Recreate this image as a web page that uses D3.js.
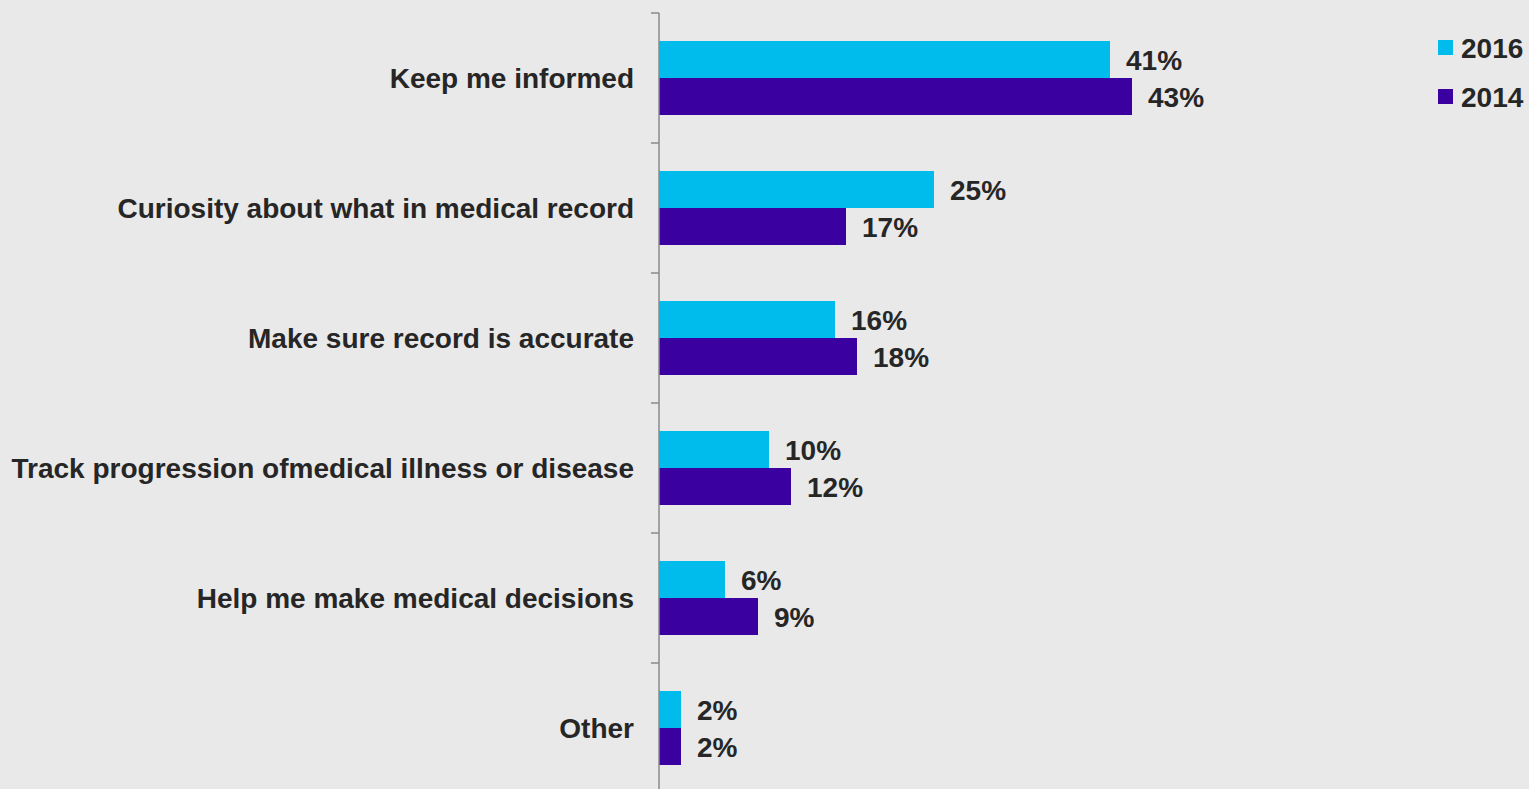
<!DOCTYPE html>
<html>
<head>
<meta charset="utf-8">
<script src="https://cdn.jsdelivr.net/npm/d3@7"></script>
<style>
  html, body { margin: 0; padding: 0; background: #e9e9e9; }
  svg { display: block; }
  text { font-family: "Liberation Sans", Arial, sans-serif; font-weight: bold; fill: #262626; }
</style>
</head>
<body>
<svg id="chart" width="1529" height="789"></svg>
<script>
// Reasons for accessing the medical record, by survey year (%)
const categories = [
  "Keep me informed",
  "Curiosity about what in medical record",
  "Make sure record is accurate",
  "Track progression ofmedical illness or disease",
  "Help me make medical decisions",
  "Other"
];
const seriesNames = ["2016", "2014"];
const values2016 = [41, 25, 16, 10, 6, 2];
const values2014 = [43, 17, 18, 12, 9, 2];
const seriesColors = ["#00bcec", "#3a00a0"];

const svg = d3.select("#chart");
const axisX = 659;
const fontSize = 28;

const x = d3.scaleLinear().domain([0, 50]).range([axisX, axisX + 550]);
const y0 = d3.scaleBand().domain(categories).range([13, 793]).padding(0);
const y1 = d3.scaleBand().domain(seriesNames).range([0, y0.bandwidth()]).paddingInner(0).paddingOuter(0.757);
const color = d3.scaleOrdinal().domain(seriesNames).range(seriesColors);

const rows = categories.map((c, i) => ({
  category: c,
  items: [
    { series: "2016", value: values2016[i] },
    { series: "2014", value: values2014[i] }
  ]
}));

// Bars and value labels
const groups = svg.append("g").selectAll("g")
  .data(rows)
  .join("g")
  .attr("transform", d => `translate(0,${y0(d.category)})`);

groups.selectAll("rect")
  .data(d => d.items)
  .join("rect")
  .attr("x", x(0))
  .attr("y", d => y1(d.series))
  .attr("width", d => x(d.value) - x(0))
  .attr("height", y1.bandwidth())
  .attr("fill", d => color(d.series));

groups.selectAll("text.val")
  .data(d => d.items)
  .join("text")
  .attr("class", "val")
  .attr("x", d => x(d.value) + 16)
  .attr("y", d => y1(d.series) + y1.bandwidth() / 2 + fontSize * 0.36)
  .attr("font-size", fontSize)
  .text(d => d.value + "%");

// Category axis on the left edge of the bars
const axis = d3.axisLeft(y0).tickSize(0).tickPadding(25);
const axisG = svg.append("g")
  .attr("transform", `translate(${axisX},0)`)
  .call(axis);
axisG.select(".domain").remove();
axisG.selectAll(".tick text")
  .attr("font-size", fontSize)
  .attr("dy", null)
  .attr("y", fontSize * 0.36)
  .style("font-family", "'Liberation Sans', Arial, sans-serif")
  .style("font-weight", "bold")
  .attr("fill", "#262626");

const boundaries = categories.map(c => y0(c)).concat([y0.range()[1]]);
axisG.selectAll("line.sep")
  .data(boundaries)
  .join("line")
  .attr("class", "sep")
  .attr("x1", -8).attr("x2", 0)
  .attr("y1", d => d).attr("y2", d => d)
  .attr("stroke", "#8a8a8a").attr("stroke-width", 1.5);
axisG.append("line")
  .attr("x1", 0).attr("x2", 0)
  .attr("y1", y0.range()[0]).attr("y2", y0.range()[1])
  .attr("stroke", "#8a8a8a").attr("stroke-width", 1.5);

// Legend
const legend = svg.append("g").attr("transform", "translate(1438,40)");
const li = legend.selectAll("g")
  .data(seriesNames)
  .join("g")
  .attr("transform", (d, i) => `translate(0,${i * 49})`);
li.append("rect")
  .attr("width", 15).attr("height", 15)
  .attr("fill", d => color(d));
li.append("text")
  .attr("x", 23)
  .attr("y", 7.5 + fontSize * 0.36)
  .attr("font-size", fontSize)
  .text(d => d);
</script>
</body>
</html>
